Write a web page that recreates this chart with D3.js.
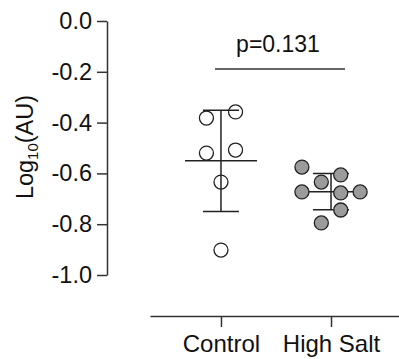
<!DOCTYPE html>
<html>
<head>
<meta charset="utf-8">
<script src="https://cdn.jsdelivr.net/npm/d3@7"></script>
<style>
  body { margin: 0; background: #fff; }
  text { font-family: "Liberation Sans", Arial, sans-serif; fill: #111; }
</style>
</head>
<body>
<div id="chart"></div>
<script>
// data
const groups = ['Control', 'High Salt'];
const controlValues = [-0.382, -0.358, -0.520, -0.508, -0.634, -0.902];
const highSaltValues = [-0.575, -0.606, -0.634, -0.673, -0.677, -0.673, -0.744, -0.795];
// horizontal jitter slots for the dot cloud
const controlSlots = [-1.5, 1.5, -1.5, 1.5, 0, 0];
const highSaltSlots = [-3, 1, -1, -3, 1, 3, 1, -1];
const yTicks = [0, -0.2, -0.4, -0.6, -0.8, -1.0];
const pLabel = 'p=0.131';

const width = 399, height = 359;

const svg = d3.select('#chart')
  .append('svg')
  .attr('width', width)
  .attr('height', height);

const y = d3.scaleLinear().domain([-1, 0]).range([275, 21]);
const x = d3.scalePoint().domain(groups).range([150, 402]).padding(0.645);
const slot = d3.scaleLinear().domain([0, 1]).range([0, 9.7]);

// y axis
const yAxis = svg.append('g')
  .attr('transform', 'translate(107,0)')
  .call(d3.axisLeft(y).tickValues(yTicks).tickSize(10).tickSizeOuter(0).tickPadding(5));
yAxis.selectAll('path, line').attr('stroke', '#333').attr('stroke-width', 1.5);
yAxis.selectAll('text').style('font-size', '23.5px').attr('fill', '#111')
  .text(d => d3.format('.1f')(d).replace('−', '-'));

// x axis
const xAxis = svg.append('g')
  .attr('transform', 'translate(0,316)')
  .call(d3.axisBottom(x).tickSize(11).tickSizeOuter(0).tickPadding(8));
xAxis.selectAll('path, line').attr('stroke', '#333').attr('stroke-width', 1.5);
xAxis.selectAll('text').style('font-size', '24px').attr('fill', '#111');

// y label
const yLabel = svg.append('text')
  .attr('transform', 'translate(33,147) rotate(-90)')
  .attr('text-anchor', 'middle')
  .style('font-size', '23.5px');
yLabel.append('tspan').text('Log');
yLabel.append('tspan').text('10').style('font-size', '15px').attr('dy', 5);
yLabel.append('tspan').text('(AU)').attr('dy', -5);

// mean ± SD
function stats(vals) {
  return { mean: d3.mean(vals), sd: d3.deviation(vals) };
}

const series = [
  { name: 'Control', values: controlValues, slots: controlSlots, fill: 'none' },
  { name: 'High Salt', values: highSaltValues, slots: highSaltSlots, fill: '#9b9b9b' }
];

series.forEach(s => {
  const cx = x(s.name);
  const st = stats(s.values);
  const g = svg.append('g').attr('stroke', '#222').attr('stroke-width', 1.5);
  g.append('line')
    .attr('x1', cx).attr('x2', cx)
    .attr('y1', y(st.mean + st.sd)).attr('y2', y(st.mean - st.sd));
  [st.mean + st.sd, st.mean - st.sd].forEach(v => {
    g.append('line')
      .attr('x1', cx - 18).attr('x2', cx + 18)
      .attr('y1', y(v)).attr('y2', y(v));
  });
  g.append('line')
    .attr('x1', cx - 36).attr('x2', cx + 36)
    .attr('y1', y(st.mean)).attr('y2', y(st.mean));

  svg.append('g').selectAll('circle')
    .data(s.values)
    .enter()
    .append('circle')
    .attr('cx', (d, i) => cx + slot(s.slots[i]))
    .attr('cy', d => y(d))
    .attr('r', 7)
    .attr('fill', s.fill)
    .attr('stroke', '#222')
    .attr('stroke-width', 1.3);
});

// significance bracket
svg.append('line')
  .attr('x1', x('Control') - 6).attr('x2', x('High Salt') + 14)
  .attr('y1', 69).attr('y2', 69)
  .attr('stroke', '#333').attr('stroke-width', 1.5);
svg.append('text')
  .attr('x', (x('Control') + x('High Salt')) / 2 + 2)
  .attr('y', 52)
  .attr('text-anchor', 'middle')
  .style('font-size', '23px')
  .text(pLabel);
</script>
</body>
</html>
